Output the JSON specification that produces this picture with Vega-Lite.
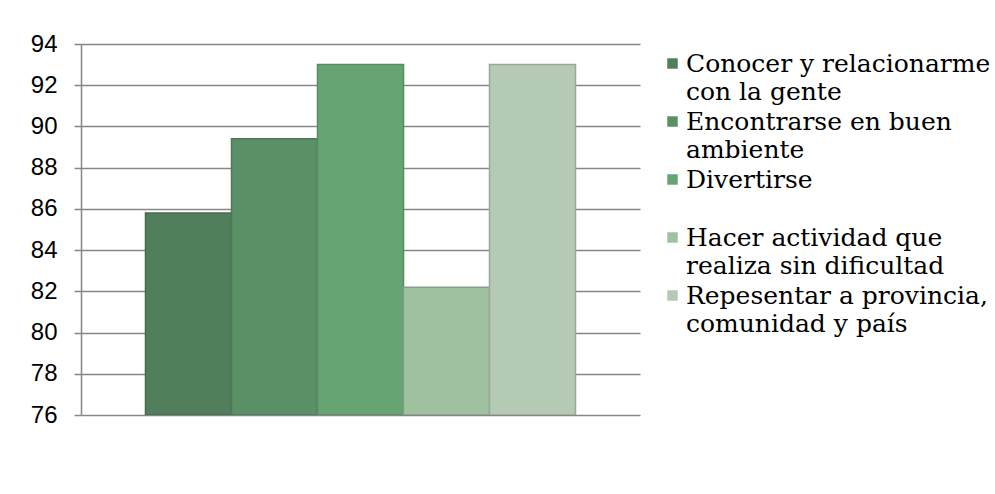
{
  "$schema": "https://vega.github.io/schema/vega-lite/v6.json",
  "width": 559,
  "height": 371,
  "autosize": {"type": "none"},
  "padding": {"left": 81, "top": 44, "right": 355, "bottom": 79},
  "background": "white",
  "data": {
    "values": [
      {"motivo": "Conocer y relacionarme con la gente", "valor": 85.8, "orden": 1},
      {"motivo": "Encontrarse en buen ambiente", "valor": 89.4, "orden": 2},
      {"motivo": "Divertirse", "valor": 93.0, "orden": 3},
      {"motivo": "Hacer actividad que realiza sin dificultad", "valor": 82.2, "orden": 4},
      {"motivo": "Repesentar a provincia, comunidad y país", "valor": 93.0, "orden": 5}
    ]
  },
  "mark": {"type": "bar", "clip": true, "strokeWidth": 1.5},
  "encoding": {
    "x": {
      "field": "motivo",
      "type": "nominal",
      "sort": {"field": "orden"},
      "scale": {"paddingInner": 0, "paddingOuter": 0.75},
      "axis": null
    },
    "y": {
      "field": "valor",
      "type": "quantitative",
      "scale": {"domain": [76, 94], "zero": false, "nice": false},
      "axis": {
        "values": [76, 78, 80, 82, 84, 86, 88, 90, 92, 94],
        "title": null,
        "labelFont": "Liberation Sans",
        "labelFontSize": 24,
        "labelColor": "black",
        "labelPadding": 17,
        "tickSize": 7,
        "tickColor": "#868686",
        "tickWidth": 1.5,
        "domainColor": "#868686",
        "domainWidth": 1.5,
        "grid": true,
        "gridColor": "#868686",
        "gridWidth": 1.5
      }
    },
    "y2": {"datum": 76},
    "color": {
      "field": "motivo",
      "type": "nominal",
      "sort": {"field": "orden"},
      "scale": {
        "domain": [
          "Conocer y relacionarme con la gente",
          "Encontrarse en buen ambiente",
          "Divertirse",
          "Hacer actividad que realiza sin dificultad",
          "Repesentar a provincia, comunidad y país"
        ],
        "range": ["#527f5b", "#5b8f66", "#67a473", "#9fc1a0", "#b4cab5"]
      },
      "legend": {
        "title": null,
        "orient": "none",
        "legendX": 579,
        "legendY": 7,
        "padding": 0,
        "symbolType": "square",
        "symbolSize": 110,
        "symbolStrokeWidth": 0,
        "labelFont": "DejaVu Serif",
        "labelFontSize": 25,
        "labelColor": "black",
        "labelLimit": 400,
        "labelOffset": 1,
        "rowPadding": 3,
        "labelExpr": "datum.label == 'Conocer y relacionarme con la gente' ? ['Conocer y relacionarme', 'con la gente'] : datum.label == 'Encontrarse en buen ambiente' ? ['Encontrarse en buen', 'ambiente'] : datum.label == 'Divertirse' ? ['Divertirse', ' '] : datum.label == 'Hacer actividad que realiza sin dificultad' ? ['Hacer actividad que', 'realiza sin dificultad'] : ['Repesentar a provincia,', 'comunidad y país']"
      }
    },
    "stroke": {
      "field": "motivo",
      "type": "nominal",
      "sort": {"field": "orden"},
      "scale": {"range": ["#456b4c", "#4d7a56", "#578c62", "#879f88", "#98a999"]},
      "legend": null
    }
  },
  "config": {
    "view": {"stroke": null},
    "style": {"guide-label": {"lineHeight": 28.8}}
  }
}
